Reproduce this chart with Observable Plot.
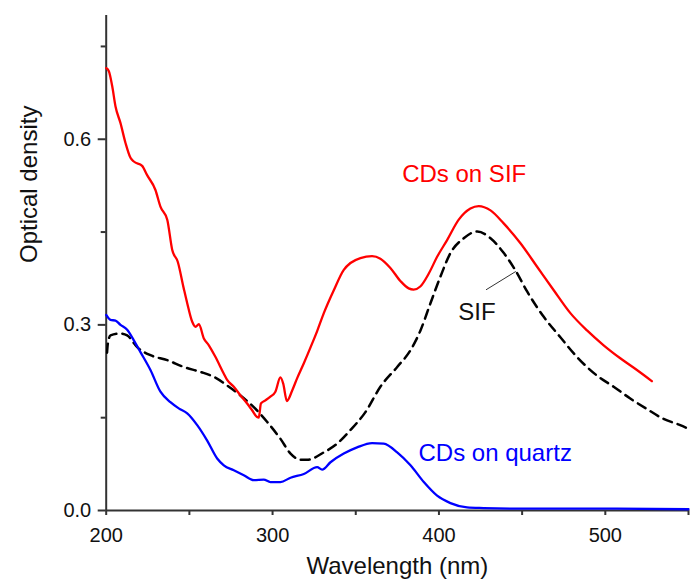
<!DOCTYPE html>
<html>
<head>
<meta charset="utf-8">
<script src="https://cdn.jsdelivr.net/npm/d3@7"></script>
<script src="https://cdn.jsdelivr.net/npm/@observablehq/plot@0.6"></script>
<style>
  html, body { margin: 0; padding: 0; background: #fff; }
  #chart { width: 690px; height: 585px; }
</style>
</head>
<body>
<div id="chart"></div>
<script>
// ---- Data ----
const sifCdsWl = [200, 201.6, 203.6, 205.6, 208.6, 211.6, 214.6, 216.6, 221.6, 224.6, 229.6, 232.6, 236.7, 239.7, 243, 246.6, 248.7, 251.7, 253.7, 255.7, 258.7, 261.7, 265.7, 270.7, 272.7, 276.7, 280.7, 284.7, 287.7, 290.7, 291.7, 293, 295.7, 298.7, 301.7, 304.7, 306.4, 308.6, 311.8, 314.8, 318.8, 323.8, 326.8, 330.8, 336.8, 342.8, 346.8, 352.8, 359.8, 364.8, 370.8, 376.8, 381.8, 384.8, 388.8, 393.9, 398.9, 404.9, 411.9, 418.9, 423.9, 431, 438.9, 449, 459, 469, 479, 489, 499, 509, 519, 528];
const sifCdsOd = [0.715, 0.71, 0.686, 0.653, 0.626, 0.594, 0.57, 0.564, 0.557, 0.542, 0.518, 0.491, 0.47, 0.421, 0.402, 0.359, 0.335, 0.305, 0.297, 0.301, 0.278, 0.267, 0.248, 0.221, 0.211, 0.2, 0.186, 0.173, 0.162, 0.151, 0.15, 0.173, 0.178, 0.184, 0.192, 0.215, 0.205, 0.177, 0.194, 0.214, 0.238, 0.27, 0.29, 0.319, 0.356, 0.389, 0.4, 0.408, 0.411, 0.407, 0.392, 0.371, 0.359, 0.357, 0.362, 0.383, 0.41, 0.437, 0.47, 0.488, 0.492, 0.485, 0.464, 0.432, 0.394, 0.356, 0.319, 0.291, 0.267, 0.246, 0.227, 0.209];

const sifWl = [200.5, 201, 202.6, 208.6, 212.6, 218.6, 226.6, 236.7, 246.6, 256.7, 264.7, 272.7, 280.7, 288.7, 296.8, 304.7, 310.8, 316.8, 320.8, 330.8, 338.8, 346.8, 355.8, 364.8, 374.9, 382.9, 388.9, 394.9, 400.9, 406.9, 414.9, 423, 431, 439, 446, 453, 463, 473, 483, 495, 505, 515, 525, 535, 545, 550];
const sifOd = [0.255, 0.27, 0.283, 0.286, 0.283, 0.264, 0.251, 0.243, 0.232, 0.224, 0.216, 0.202, 0.186, 0.167, 0.143, 0.116, 0.092, 0.082, 0.082, 0.094, 0.108, 0.13, 0.159, 0.2, 0.232, 0.259, 0.291, 0.335, 0.378, 0.416, 0.44, 0.451, 0.44, 0.416, 0.388, 0.354, 0.313, 0.28, 0.248, 0.218, 0.2, 0.181, 0.164, 0.148, 0.138, 0.132];

const quartzWl = [200, 202.6, 205.6, 208.6, 212.6, 216.6, 220.6, 226.6, 232.6, 238.6, 243.6, 248.7, 254.7, 260.7, 266.7, 270.7, 276.7, 282.7, 288.7, 294.7, 298.7, 304.7, 310.8, 318.8, 326.8, 329.8, 334.8, 342.8, 350.8, 359.8, 366.8, 374.9, 382.9, 390.9, 398.9, 406.9, 416.9, 426.9, 450, 500, 550];
const quartzOd = [0.316, 0.308, 0.307, 0.3, 0.292, 0.275, 0.256, 0.227, 0.192, 0.175, 0.165, 0.157, 0.138, 0.113, 0.084, 0.073, 0.065, 0.057, 0.049, 0.05, 0.046, 0.046, 0.053, 0.059, 0.07, 0.066, 0.078, 0.092, 0.102, 0.109, 0.108, 0.094, 0.073, 0.046, 0.024, 0.012, 0.005, 0.004, 0.003, 0.003, 0.002];

const xMajorTicks = [200, 300, 400, 500];
const xMinorTicks = [250, 350, 450, 550];
const yMajorTicks = [0, 0.3, 0.6];
const yMajorLabels = ["0.0", "0.3", "0.6"];
const yMinorTicks = [0.15, 0.45, 0.75];

const seriesLabels = ["CDs on SIF", "SIF", "CDs on quartz"];
const labelWl = [377.9, 422.8, 387.7];
const labelOd = [0.544, 0.321, 0.092];
const leaderWl = [428.5, 446];
const leaderOd = [0.357, 0.386];

const xTitle = "Wavelength (nm)";
const yTitle = "Optical density";

// ---- Build tables ----
const toRows = (w, v) => w.map((d, i) => ({w: d, v: v[i]}));
const redRows = toRows(sifCdsWl, sifCdsOd);
const blackRows = toRows(sifWl, sifOd);
const blueRows = toRows(quartzWl, quartzOd);
const labelRows = seriesLabels.map((t, i) => ({t, w: labelWl[i], v: labelOd[i]}));

const axisColor = "#333";
const font = "'Liberation Sans', Arial, Helvetica, sans-serif";

const chart = Plot.plot({
  width: 690,
  height: 585,
  marginLeft: 105.7,
  marginRight: 2,
  marginTop: 15,
  marginBottom: 75,
  x: {domain: [200, 550]},
  y: {domain: [0, 0.8]},
  style: {fontFamily: font, background: "#fff", color: "#111"},
  marks: [
    // axis lines
    Plot.ruleY([0], {stroke: axisColor, strokeWidth: 2}),
    Plot.ruleX([200], {stroke: axisColor, strokeWidth: 2}),
    // x ticks
    Plot.axisX({ticks: xMajorTicks, tickSize: 5, tickPadding: 12, fontSize: 20, stroke: axisColor, strokeWidth: 2, strokeOpacity: 1, label: null, tickFormat: d => String(d)}),
    Plot.axisX({ticks: xMinorTicks, tickSize: 5, stroke: axisColor, strokeWidth: 2, strokeOpacity: 1, label: null, tickFormat: () => ""}),
    // y ticks
    Plot.axisY({ticks: yMajorTicks, tickSize: 8, tickPadding: 7, fontSize: 20, stroke: axisColor, strokeWidth: 2, strokeOpacity: 1, label: null, tickFormat: d => yMajorLabels[yMajorTicks.indexOf(d)]}),
    Plot.axisY({ticks: yMinorTicks, tickSize: 5, stroke: axisColor, strokeWidth: 2, strokeOpacity: 1, label: null, tickFormat: () => ""}),
    // curves
    Plot.line(blackRows, {x: "w", y: "v", stroke: "#000", strokeWidth: 2.5, strokeDasharray: "9,6", curve: "monotone-x", clip: true}),
    Plot.line(blueRows, {x: "w", y: "v", stroke: "#0000ff", strokeWidth: 2.3, curve: "monotone-x"}),
    Plot.line(redRows, {x: "w", y: "v", stroke: "#ff0000", strokeWidth: 2.3, curve: "monotone-x"}),
    // leader line for SIF label
    Plot.line(toRows(leaderWl, leaderOd), {x: "w", y: "v", stroke: "#333", strokeWidth: 1}),
    // series labels
    Plot.text([labelRows[0]], {x: "w", y: "v", text: "t", fill: "#ff0000", fontSize: 24, textAnchor: "start"}),
    Plot.text([labelRows[1]], {x: "w", y: "v", text: "t", fill: "#111", fontSize: 24, textAnchor: "middle"}),
    Plot.text([labelRows[2]], {x: "w", y: "v", text: "t", fill: "#0000ff", fontSize: 24, textAnchor: "start"}),
    // axis titles
    Plot.text([xTitle], {frameAnchor: "bottom", text: d => d, dy: 63, fontSize: 24, fill: "#111"}),
    Plot.text([yTitle], {frameAnchor: "left", text: d => d, dx: -77, rotate: -90, fontSize: 24, fill: "#111"})
  ]
});
document.getElementById("chart").appendChild(chart);
</script>
</body>
</html>
